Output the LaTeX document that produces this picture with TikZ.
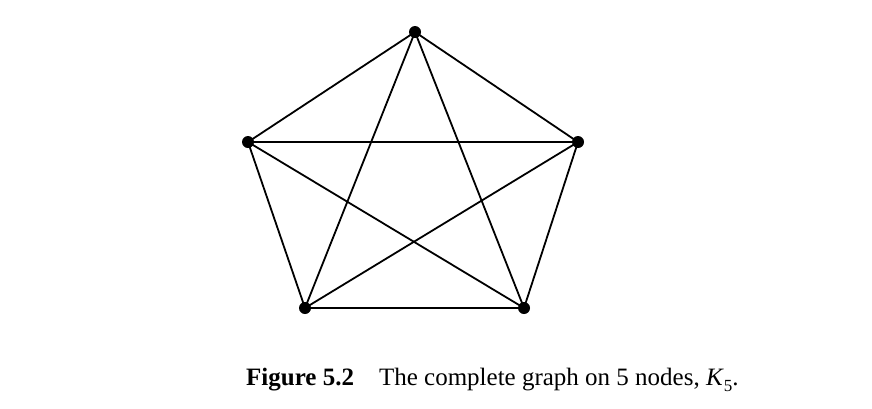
\documentclass[tikz,border=0pt]{standalone}
\usepackage{fontspec}
\setmainfont{Liberation Serif}
\newcommand{\mysub}[1]{\raisebox{-0.25em}{\fontsize{17}{20}\selectfont #1}}
\begin{document}
\begin{tikzpicture}[x=1pt,y=-1pt,
  vtx/.style={circle,fill=black,inner sep=0pt,minimum size=12pt},
  edge/.style={line width=1.8pt}]
\useasboundingbox (0,0) rectangle (872,408);
\node[vtx] (a) at (415,32) {};
\node[vtx] (b) at (248,142) {};
\node[vtx] (c) at (578,142) {};
\node[vtx] (d) at (305,308) {};
\node[vtx] (e) at (524,308) {};
\foreach \u/\v in {a/b,a/c,a/d,a/e,b/c,b/d,b/e,c/d,c/e,d/e}
  \draw[edge] (\u.center) -- (\v.center);
\node[anchor=base west,font=\fontsize{25}{30}\selectfont,inner sep=0pt] (cap) at (246,385)
  {\textbf{Figure 5.2}\quad The complete graph on 5 nodes, \textit{K}\mysub{5}.};
\end{tikzpicture}
\end{document}
